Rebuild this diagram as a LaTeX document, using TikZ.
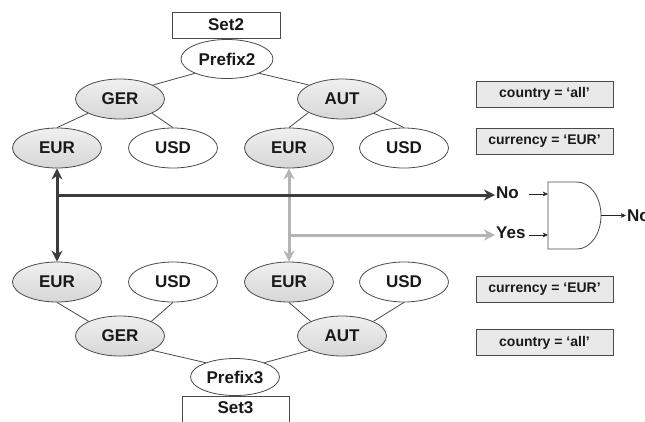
\documentclass[tikz,border=0pt]{standalone}
\usepackage{fontspec}
\setmainfont{Liberation Sans}
\usetikzlibrary{shapes.geometric,arrows.meta}

\definecolor{edgegray}{HTML}{4A4A4A}
\definecolor{darkflow}{HTML}{3C3C3C}
\definecolor{lightflow}{HTML}{B4B4B4}

\begin{document}
\begin{tikzpicture}[x=1pt,y=-1pt,
  every node/.style={font=\bfseries\fontsize{17}{19}\selectfont, text=black!90},
  valnode/.style={ellipse, draw=edgegray, line width=0.8pt,
    minimum width=89pt, minimum height=40pt, inner sep=0pt},
  hit/.style={valnode, top color=gray!12, bottom color=gray!32},
  miss/.style={valnode, fill=white},
  setbox/.style={rectangle, draw=edgegray, line width=0.8pt, fill=white,
    minimum width=108pt, minimum height=26pt, inner sep=0pt},
  cond/.style={rectangle, draw=edgegray, line width=0.8pt, fill=gray!17,
    minimum width=137pt, minimum height=26pt, inner sep=0pt,
    font=\bfseries\fontsize{14}{16}\selectfont},
  branch/.style={draw=edgegray, line width=0.8pt},
  bigtip/.tip={Stealth[length=11pt,width=11pt,inset=3.5pt]},
  darkarrow/.style={draw=darkflow, line width=3pt, arrows={-bigtip}},
  lightarrow/.style={draw=lightflow, line width=3pt, arrows={-bigtip}},
  pin/.style={draw=black!85, line width=0.8pt,
    arrows={-Stealth[length=5pt,width=4.5pt,inset=1pt]}},
  label/.style={anchor=west, inner sep=1pt, font=\bfseries\fontsize{17}{19}\selectfont},
]
\useasboundingbox (0,0) rectangle (645,421);

% upper tree: Set2
\node[setbox] (set2) at (226,25) {Set2};
\node[miss, minimum width=92pt, minimum height=39pt] (p2) at (227,59) {Prefix2};
\node[hit]  (ger1) at (120,99) {GER};
\node[hit]  (aut1) at (342,99) {AUT};
\node[hit]  (eur1) at (57,148) {EUR};
\node[miss] (usd1) at (173,148) {USD};
\node[hit]  (eur2) at (289,148) {EUR};
\node[miss] (usd2) at (404,148) {USD};

\draw[branch] (p2.204) -- (ger1.23);
\draw[branch] (p2.336) -- (aut1.157);
\draw[branch] (ger1.204) -- (eur1.north);
\draw[branch] (ger1.336) -- (usd1.north);
\draw[branch] (aut1.202) -- (eur2.north);
\draw[branch] (aut1.336) -- (usd2.north);

% lower tree: Set3
\node[hit]  (eur3) at (57,282) {EUR};
\node[miss] (usd3) at (173,282) {USD};
\node[hit]  (eur4) at (289,282) {EUR};
\node[miss] (usd4) at (404,282) {USD};
\node[hit]  (ger2) at (120,336) {GER};
\node[hit]  (aut2) at (342,336) {AUT};
\node[miss, minimum width=89pt, minimum height=37pt] (p3) at (235,377) {Prefix3};
\node[setbox, minimum width=107pt, minimum height=28pt] (set3) at (235.5,410) {};
\node at (235.5,408) {Set3};

\draw[branch] (eur3.south) -- (ger2.155);
\draw[branch] (usd3.south) -- (ger2.25);
\draw[branch] (eur4.south) -- (aut2.155);
\draw[branch] (usd4.south) -- (aut2.25);
\draw[branch] (ger2.336) -- (p3.154);
\draw[branch] (aut2.204) -- (p3.26);

% predicate boxes
\node[cond] (c1) at (544.5,94)  {country = ‘all’};
\node[cond] (c2) at (544.5,141.5) {currency = ‘EUR’};
\node[cond] (c3) at (544.5,289) {currency = ‘EUR’};
\node[cond] (c4) at (544.5,342.5) {country = ‘all’};

% match results
\node[label] (no)  at (495,193) {No};
\node[label] (yes) at (495,233) {Yes};
\coordinate (j1) at (57.5,195);
\coordinate (j2) at (289,235);

\draw[lightarrow, arrows={bigtip-bigtip}] (eur2.south) -- (eur4.north);
\draw[lightarrow] (j2) -- (j2 -| yes.west);
\draw[darkarrow, arrows={bigtip-bigtip}] (eur1.south) -- (eur3.north);
\draw[darkarrow] (j1) -- (j1 -| no.west);

% AND gate
\draw[draw=edgegray, line width=0.8pt]
  (548,182) -- (577,182) arc[start angle=-90, end angle=90, x radius=24, y radius=33.5]
  -- (548,249) -- cycle;
\coordinate (gin1) at (548,194);
\coordinate (gin2) at (548,235);
\coordinate (gout) at (601,215.5);
\coordinate (s1) at (529,194);
\coordinate (s2) at (529,235);
\draw[pin] (s1) -- (gin1);
\draw[pin] (s2) -- (gin2);
\node[label] (res) at (626,215.5) {No};
\draw[pin] (gout) -- (res.west);
\end{tikzpicture}
\end{document}
